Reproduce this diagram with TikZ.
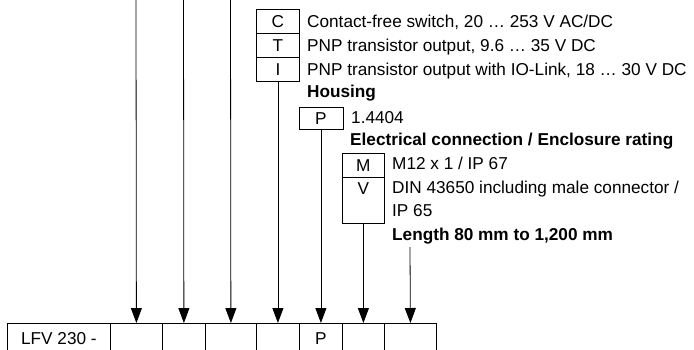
\documentclass[tikz,border=0pt]{standalone}
\usepackage{fontspec}
\setmainfont{Liberation Sans}
\usetikzlibrary{arrows.meta}

\begin{document}
\begin{tikzpicture}[
  x=1pt,y=-1pt,
  font=\fontsize{17.2}{24}\selectfont,
  key/.style={draw=black,line width=0.8pt,inner sep=0pt,
    anchor=north west,minimum width=43pt,minimum height=24pt},
  slot/.style={draw=black,line width=0.8pt,inner sep=0pt,
    anchor=north west,minimum height=30pt},
  desc/.style={anchor=base west,inner sep=0pt},
  heading/.style={desc,font=\bfseries\fontsize{17.2}{24}\selectfont},
  flow/.style={-{Triangle[length=15pt,width=11pt]},line width=0.8pt}
]
\path[use as bounding box] (0,0) rectangle (694,349);
% output
\node[key] (C) at (256,9) {C};
\node[key] (T) at (256,33) {T};
\node[key] (I) at (256,57) {I};
\node[desc] at (307,27) {Contact-free switch, 20 … 253 V AC/DC};
\node[desc] at (307,51) {PNP transistor output, 9.6 … 35 V DC};
\node[desc] at (307,75) {PNP transistor output with IO-Link, 18 … 30 V DC};
% housing
\node[heading] at (307,97) {Housing};
\node[key,minimum width=44pt,minimum height=22pt] (P) at (298.5,107) {P};
\node[desc] at (351,123) {1.4404};
% connection
\node[heading] at (350,145) {Electrical connection / Enclosure rating};
\node[key,minimum width=42pt] (M) at (342,153) {M};
\node[key,minimum width=42pt,minimum height=46pt,text height=12pt,text depth=24pt] (V) at (342,177) {V};
\node[desc] at (392,169) {M12 x 1 / IP 67};
\node[desc] at (392,193) {DIN 43650 including male connector /};
\node[desc] at (392,216) {IP 65};
% length
\node[heading] at (392,240) {Length 80 mm to 1,200 mm};
% type code
\node[slot,minimum width=103pt] (lfv) at (7,323) {LFV 230 -};
\node[slot,minimum width=52pt] (slotA) at (110,323) {};
\node[slot,minimum width=43pt] (slotB) at (162,323) {};
\node[slot,minimum width=51pt] (slotC) at (205,323) {};
\node[slot,minimum width=43pt] (slotOut) at (256,323) {};
\node[slot,minimum width=43pt] (slotHousing) at (299,323) {P};
\node[slot,minimum width=42pt] (slotConn) at (342,323) {};
\node[slot,minimum width=52pt] (slotLength) at (384,323) {};
\coordinate (topA) at (136,0);
\coordinate (topB) at (183.5,0);
\coordinate (topC) at (230.5,0);
\coordinate (lengthfoot) at (410,247);
\draw[flow] (topA) -- (slotA.north);
\draw[flow] (topB) -- (slotB.north);
\draw[flow] (topC) -- (slotC.north);
\draw[flow] (I.south) -- (slotOut.north);
\draw[flow] (P.south) -- (slotHousing.north);
\draw[flow] (V.south) -- (slotConn.north);
\draw[flow] (lengthfoot) -- (slotLength.north);
\end{tikzpicture}
\end{document}
